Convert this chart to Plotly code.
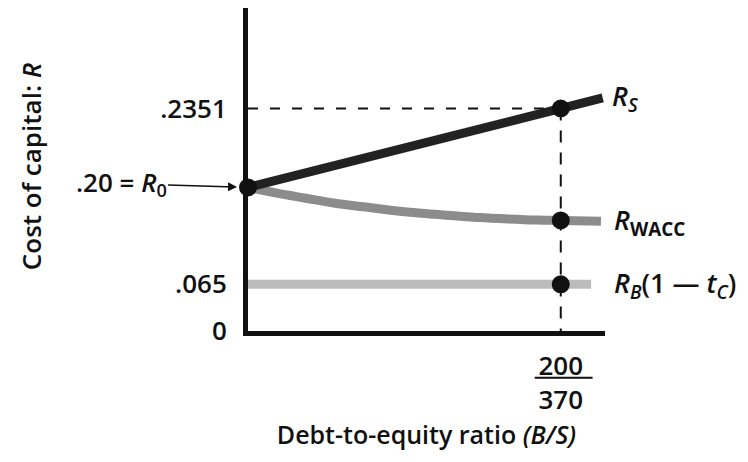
import plotly.graph_objects as go

# Schematic values (read off the picture's drawn positions; the diagram is not to scale)
bs_point = 200 / 370            # debt-to-equity ratio marked on the x axis
x_end_rs = 0.613
x_end_wacc = 0.61
x_end_rb = 0.593

r0 = 0.20
rs_drawn = 0.31                 # drawn height of the .2351 level
rs_x = [0, bs_point, x_end_rs]
rs_y = [0.20, 0.31, 0.3248]

wacc_x = [0, 0.05, 0.10, 0.15, 0.20, 0.25, 0.30, 0.35, 0.40, 0.45, 0.50, bs_point, x_end_wacc]
wacc_y = [0.200, 0.192, 0.185, 0.178, 0.173, 0.168, 0.164, 0.161, 0.158, 0.156, 0.1545, 0.154, 0.153]

rb_x = [0, x_end_rb]
rb_y = [0.065, 0.065]

y_tickvals = [0, 0.065, rs_drawn]
y_ticktext = ["0", ".065", ".2351"]
x_tickvals = [bs_point]
x_ticktext = ["200<br>370"]

FONT = "Open Sans"
W = 600
fig = go.Figure()

# dashed guide lines
fig.add_trace(go.Scatter(x=[0, bs_point], y=[rs_drawn, rs_drawn], mode="lines",
                         line=dict(color="#111", width=2, dash="10px,12px"), hoverinfo="skip"))
fig.add_trace(go.Scatter(x=[bs_point, bs_point], y=[rs_drawn, 0], mode="lines",
                         line=dict(color="#111", width=2, dash="12px,10px"), hoverinfo="skip"))

fig.add_trace(go.Scatter(x=rb_x, y=rb_y, mode="lines",
                         line=dict(color="#bcbcbc", width=9), hoverinfo="skip"))
fig.add_trace(go.Scatter(x=wacc_x, y=wacc_y, mode="lines", line_shape="spline",
                         line=dict(color="#8c8c8c", width=9), hoverinfo="skip"))
fig.add_trace(go.Scatter(x=rs_x, y=rs_y, mode="lines",
                         line=dict(color="#222222", width=9), hoverinfo="skip"))

# markers
fig.add_trace(go.Scatter(x=[0, bs_point, bs_point, bs_point],
                         y=[r0, rs_y[1], wacc_y[-2], rb_y[0]],
                         mode="markers", marker=dict(color="#111", size=18),
                         hoverinfo="skip", cliponaxis=False))

fig.update_layout(
    width=732, height=446,
    margin=dict(l=240, r=135, t=0, b=123, autoexpand=False),
    paper_bgcolor="white", plot_bgcolor="white",
    showlegend=False,
    font=dict(family=FONT, size=24, color="#111"),
    xaxis=dict(range=[0, 0.617], showgrid=False, zeroline=False, automargin=False,
               showline=True, linecolor="#111", linewidth=5,
               tickvals=x_tickvals, ticktext=x_ticktext, ticks="",
               tickfont=dict(family=FONT, size=26, color="#111", weight=W),
               ticklabelstandoff=8,
               title=dict(text="Debt-to-equity ratio <i>(B/S)</i>", standoff=12,
                          font=dict(family=FONT, size=25, color="#111", weight=W))),
    yaxis=dict(range=[0, 0.45], showgrid=False, zeroline=False, automargin=False,
               showline=True, linecolor="#111", linewidth=5,
               tickvals=y_tickvals, ticktext=y_ticktext, ticks="",
               tickfont=dict(family=FONT, size=26, color="#111", weight=W),
               ticklabelstandoff=11),
)

# y-axis title
fig.add_annotation(x=-0.608, y=0.51, xref="paper", yref="paper", textangle=-90,
                   text="Cost of capital: <i>R</i>", showarrow=False,
                   xanchor="center", yanchor="middle",
                   font=dict(family=FONT, size=26, color="#111", weight=W))

# fraction bar under 200
fig.add_shape(type="line", xref="x", yref="paper",
              x0=bs_point - 0.045, x1=bs_point + 0.055, y0=-0.145, y1=-0.145,
              line=dict(color="#111", width=2))

# .20 = R0 with arrow
fig.add_annotation(x=0, y=r0, xref="x", yref="y", ax=-127, ay=-4,
                   text=".20 = <i>R</i><sub>0</sub>", showarrow=True,
                   arrowhead=2, arrowsize=1.2, arrowwidth=1.5, arrowcolor="#111",
                   standoff=11, font=dict(family=FONT, size=26, color="#111", weight=W))

# curve labels
fig.add_annotation(x=1.015, y=rs_y[-1], xref="paper", yref="y", xanchor="left", yanchor="middle",
                   text="<i>R</i><sub><i>S</i></sub>", showarrow=False,
                   font=dict(family=FONT, size=27, color="#111", weight=W))
fig.add_annotation(x=1.02, y=wacc_y[-1], xref="paper", yref="y", xanchor="left", yanchor="middle",
                   text="<i>R</i><sub><b>WACC</b></sub>", showarrow=False,
                   font=dict(family=FONT, size=27, color="#111", weight=W))
fig.add_annotation(x=1.02, y=rb_y[-1], xref="paper", yref="y", xanchor="left", yanchor="middle",
                   text="<i>R</i><sub><i>B</i></sub>(1 — <i>t</i><sub><i>C</i></sub>)", showarrow=False,
                   font=dict(family=FONT, size=27, color="#111", weight=W))

fig.write_html("out.html")
